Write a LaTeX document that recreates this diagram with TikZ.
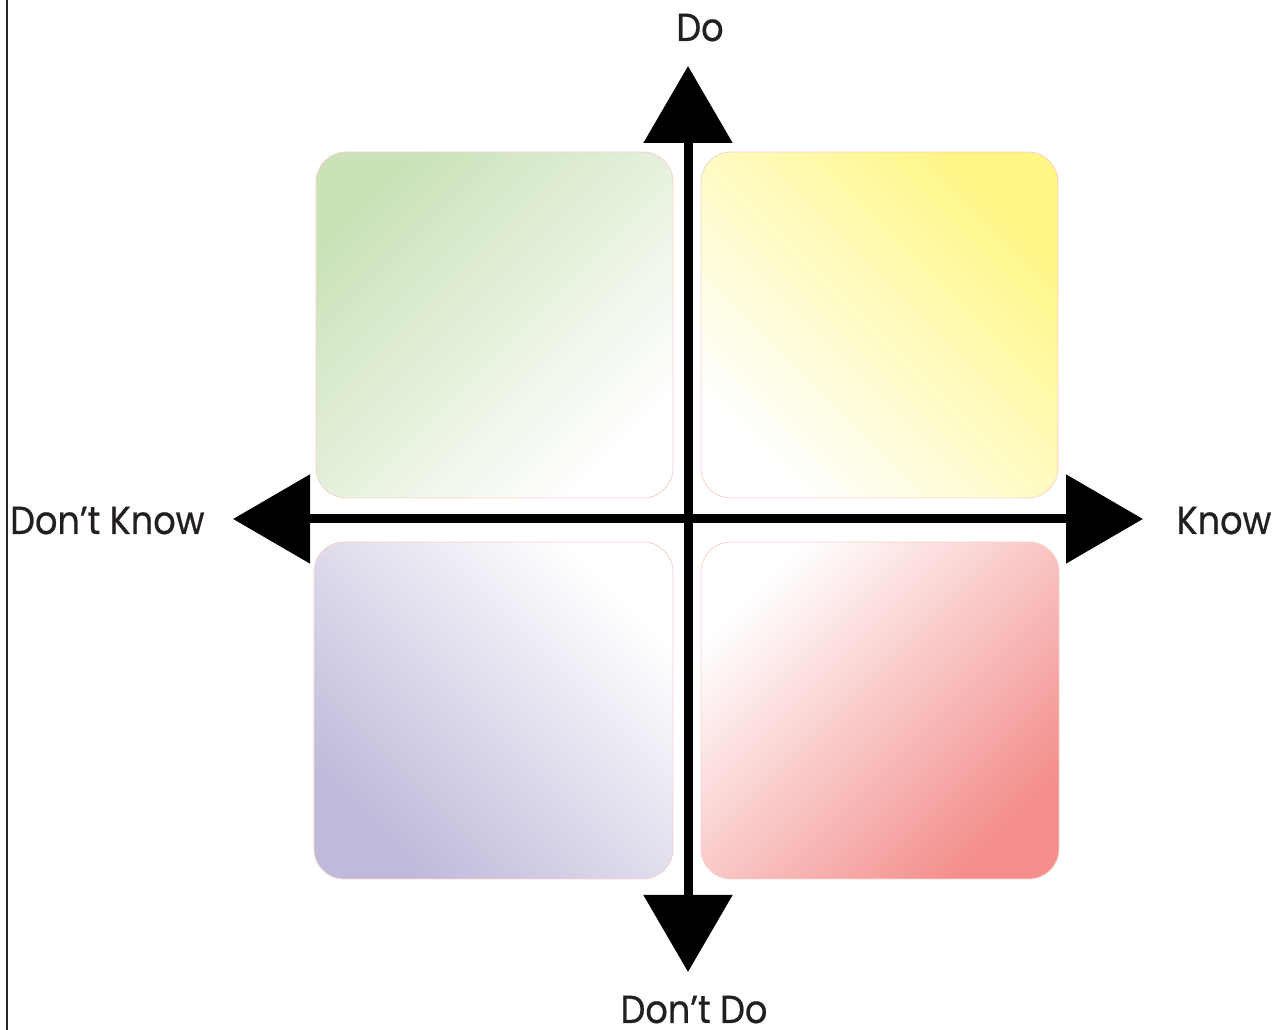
\documentclass[tikz,border=0pt]{standalone}
\usepackage{fontspec}
\setmainfont{Poppins}[FakeStretch=0.9, FakeBold=0.6]
\usetikzlibrary{arrows.meta}
\definecolor{txt}{HTML}{231F20}
\definecolor{qgreen}{HTML}{CBE2B9}
\definecolor{qyellow}{HTML}{FFF684}
\definecolor{qpurple}{HTML}{C0B9DA}
\definecolor{qred}{HTML}{F38E8C}
\definecolor{qedge}{HTML}{F6D2CC}
\begin{document}
\begin{tikzpicture}[x=1pt,y=1pt,
  quad/.style={rounded corners=30pt, draw=qedge, line width=0.8pt},
  lbl/.style={text=txt, font=\fontsize{39}{44}\selectfont, inner sep=0pt, anchor=base},
  axis/.style={line width=9pt, draw=black, -{Triangle[length=77pt,width=87pt]}}]
\useasboundingbox (0,0) rectangle (1277,1030);
\draw[line width=2.5pt, black!85] (7,0) -- (7,1030);
% quadrants
\shade[quad, left color=qgreen, right color=white, shading angle=45] (316,532) rectangle (673,878);
\shade[quad, left color=white, right color=qyellow, shading angle=135] (701,532) rectangle (1058,878);
\shade[quad, left color=qpurple, right color=white, shading angle=135] (314,151) rectangle (673,488);
\shade[quad, left color=white, right color=qred, shading angle=45] (701,151) rectangle (1059,488);
% axes
\coordinate (C) at (688,511);
\coordinate (T) at (688,964);
\coordinate (B) at (688,58);
\coordinate (L) at (233,511);
\coordinate (R) at (1143,511);
\draw[axis] (C) -- (T);
\draw[axis] (C) -- (B);
\draw[axis] (C) -- (L);
\draw[axis] (C) -- (R);
% labels
\node[lbl] (do) at (700,989) {Do};
\node[lbl] (dontdo) at (694,7) {Don’t Do};
\node[lbl, anchor=base west] (dontknow) at (10,496) {Don’t Know};
\node[lbl] (know) at (1224,496) {Know};
\end{tikzpicture}
\end{document}
